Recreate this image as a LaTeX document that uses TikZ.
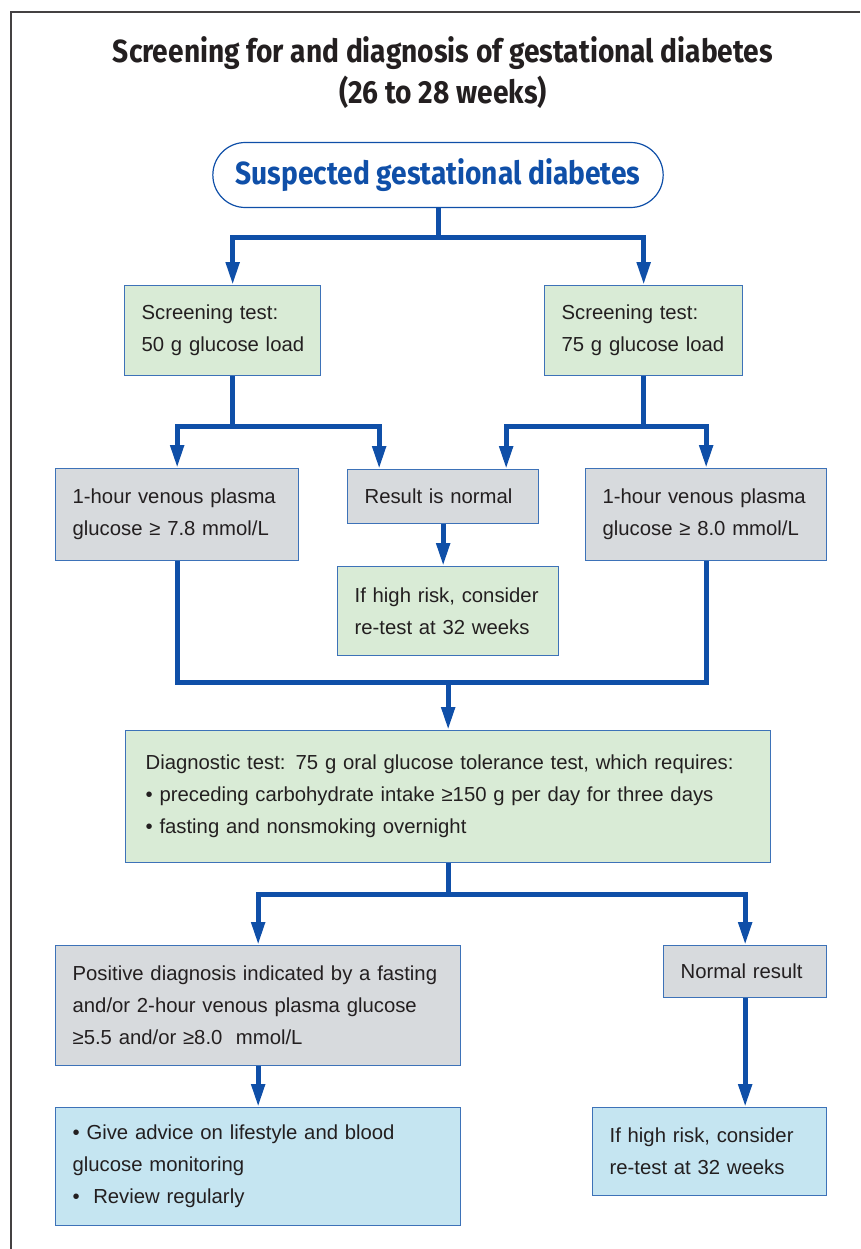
\documentclass[tikz,border=0pt]{standalone}
\usepackage{fontspec}
\setmainfont{Liberation Sans}
\newfontfamily\headfont[FakeStretch=0.88]{Fira Sans}
\usetikzlibrary{arrows.meta,shapes.misc}

\definecolor{flowblue}{HTML}{0F4FA8}
\definecolor{boxline}{HTML}{3D72B8}
\definecolor{greenfill}{HTML}{D9EBD6}
\definecolor{greyfill}{HTML}{D7DADD}
\definecolor{bluefill}{HTML}{C5E5F1}
\definecolor{inktext}{HTML}{231F20}

\begin{document}
\begin{tikzpicture}[
  x=1pt, y=-1pt,
  flow/.style={draw=flowblue, line width=5pt, -{Triangle[length=23pt,width=13pt]}},
  link/.style={draw=flowblue, line width=5pt},
  box/.style={draw=boxline, line width=1.3pt, anchor=north west, inner xsep=17pt,
    inner ysep=0pt, align=left, text=inktext,
    font=\fontsize{20.3}{32}\selectfont},
  boxsize/.style 2 args={text width=#1-34pt, minimum height=#2},
  greenbox/.style={box, fill=greenfill},
  greybox/.style={box, fill=greyfill},
  bluebox/.style={box, fill=bluefill}
]
\useasboundingbox (0,0) rectangle (860,1249);
\draw[inktext!85, line width=1.8pt] (860,12) -- (11,12) -- (11,1249);

% title and start
\node[align=center, text=inktext, font=\headfont\bfseries\fontsize{32}{41}\selectfont]
  (title) at (443,73) {Screening for and diagnosis of gestational diabetes\\(26 to 28 weeks)};
\node[rounded rectangle, draw=flowblue, line width=1.2pt, minimum width=457pt, minimum height=65pt,
  text=flowblue, font=\headfont\bfseries\fontsize{32}{41}\selectfont]
  (start) at (438,175) {Suspected gestational diabetes};

% screening
\node[greenbox, boxsize={196pt}{90pt}] (s1) at (124,285) {Screening test:\\\mbox{50 g glucose load}};
\node[greenbox, boxsize={198pt}{90pt}] (s2) at (544,285) {Screening test:\\\mbox{75 g glucose load}};

% screening results
\node[greybox, boxsize={243pt}{92pt}] (a1) at (55,468) {1-hour venous plasma\\glucose ≥ 7.8 mmol/L};
\node[greybox, boxsize={191pt}{54pt}] (n) at (347,469) {Result is normal};
\node[greybox, boxsize={241pt}{92pt}] (a2) at (585,468) {1-hour venous plasma\\glucose ≥ 8.0 mmol/L};
\node[greenbox, boxsize={221pt}{89pt}] (h1) at (337,566) {If high risk, consider\\re-test at 32 weeks};

% diagnostic test
\node[greenbox, boxsize={645pt}{132pt}, inner xsep=20pt, text width=605pt] (d) at (125,730)
  {Diagnostic test: 75 g oral glucose tolerance test, which requires:\\
   • preceding carbohydrate intake ≥150 g per day for three days\\
   • fasting and nonsmoking overnight};

% outcome
\node[greybox, boxsize={405pt}{120pt}] (p) at (55,945)
  {Positive diagnosis indicated by a fasting\\and/or 2-hour venous plasma glucose\\≥5.5 and/or ≥8.0~~mmol/L};
\node[greybox, boxsize={163pt}{52pt}] (nr) at (663,945) {Normal result};
\node[bluebox, boxsize={405pt}{118pt}] (b) at (55,1107)
  {• Give advice on lifestyle and blood\\glucose monitoring\\•~~Review regularly};
\node[bluebox, boxsize={234pt}{88pt}] (h2) at (592,1107) {If high risk, consider\\re-test at 32 weeks};

% connectors
\draw[flow] (start.south) -- ++(0,29) -| ([xshift=10pt]s1.north);
\draw[flow] (start.south) -- ++(0,29) -| (s2.north);
\draw[flow] ([xshift=10pt]s1.south) -- ++(0,50) -| (a1.north);
\draw[flow] ([xshift=10pt]s1.south) -- ++(0,50) -| ([xshift=-64pt]n.north);
\draw[flow] (s2.south) -- ++(0,50) -| ([xshift=63pt]n.north);
\draw[flow] (s2.south) -- ++(0,50) -| (a2.north);
\draw[flow] (n.south) -- (n.south |- h1.north);
\draw[link] (a1.south) |- ([yshift=48pt]d.north) -| (a2.south);
\draw[flow] ([yshift=48pt]d.north) -- (d.north);
\draw[flow] (d.south) -- ++(0,31) -| (p.north);
\draw[flow] (d.south) -- ++(0,31) -| (nr.north);
\draw[flow] (p.south) -- (b.north);
\draw[flow] (nr.south) -- (nr.south |- h2.north);
\end{tikzpicture}
\end{document}
